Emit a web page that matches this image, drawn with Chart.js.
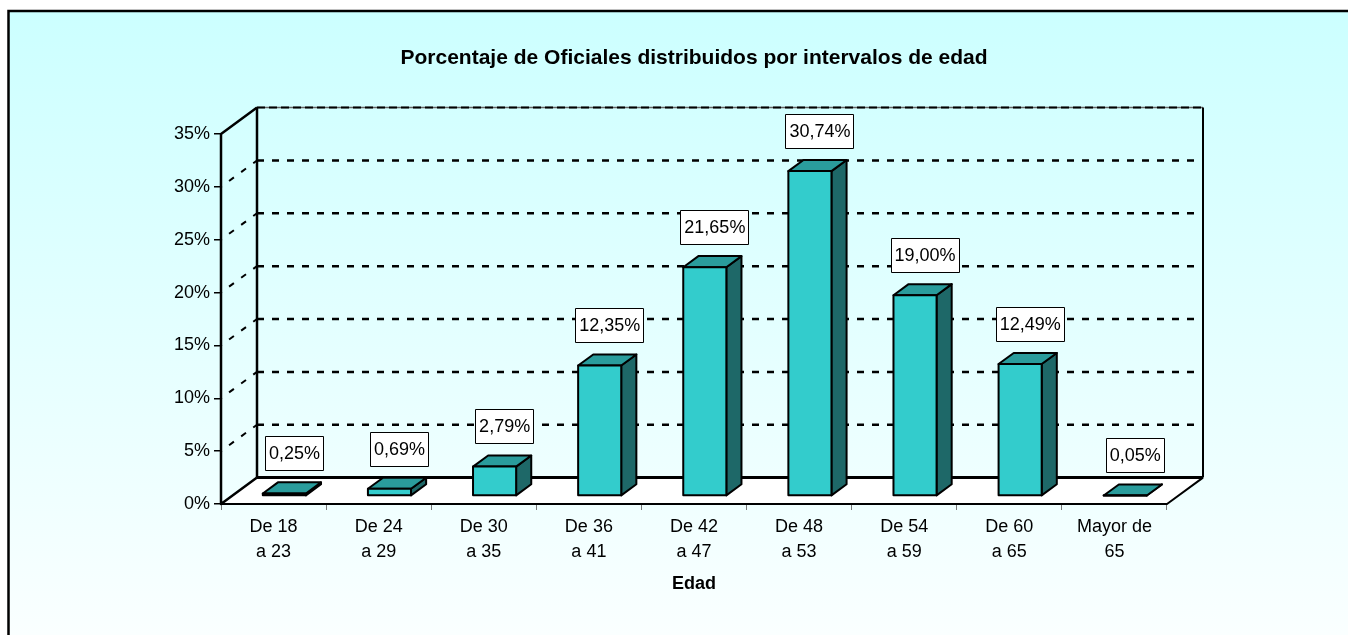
<!DOCTYPE html>
<html>
<head>
<meta charset="utf-8">
<script src="https://cdn.jsdelivr.net/npm/chart.js@4.4.0/dist/chart.umd.min.js"></script>
<style>
  body { margin: 0; background: #fff; }
  #wrap { width: 1348px; height: 635px; }
</style>
</head>
<body>
<div id="wrap"><canvas id="ageChart" width="1348" height="635"></canvas></div>
<script>
// Data
const ageGroups = [
    ['De 18', 'a 23'], ['De 24', 'a 29'], ['De 30', 'a 35'],
    ['De 36', 'a 41'], ['De 42', 'a 47'], ['De 48', 'a 53'],
    ['De 54', 'a 59'], ['De 60', 'a 65'], ['Mayor de', '65']
];
const officerPct = [0.25, 0.69, 2.79, 12.35, 21.65, 30.74, 19.00, 12.49, 0.05];
const pctTicks = [0, 5, 10, 15, 20, 25, 30, 35];
const chartTitle = 'Porcentaje de Oficiales distribuidos por intervalos de edad';
const axisTitle = 'Edad';

const FONT = '"Liberation Sans", Arial, sans-serif';
// 3D depth of the plot box (back wall offset from front)
const DX = 36, DY = -26.4;
const BAR_FRONT = 0.30, BAR_BACK = 0.72; // where the columns sit in the depth

function strokeLine(ctx, pts, width, dash) {
    ctx.lineWidth = width;
    ctx.setLineDash(dash || []);
    ctx.beginPath();
    pts.forEach((p, i) => i ? ctx.lineTo(p[0], p[1]) : ctx.moveTo(p[0], p[1]));
    ctx.stroke();
}

function poly(ctx, pts, fill) {
    ctx.beginPath();
    pts.forEach((p, i) => i ? ctx.lineTo(p[0], p[1]) : ctx.moveTo(p[0], p[1]));
    ctx.closePath();
    ctx.fillStyle = fill;
    ctx.fill();
    ctx.stroke();
}

// Frame with the light cyan gradient, plus the chart title centred on the plot
const backdrop = {
    id: 'backdrop',
    beforeDraw(chart) {
        const { ctx, width, height, chartArea: a } = chart;
        ctx.save();
        const g = ctx.createLinearGradient(0, 11, 0, height);
        g.addColorStop(0, '#CCFFFF');
        g.addColorStop(1, '#FAFFFF');
        ctx.fillStyle = g;
        ctx.fillRect(9, 11, width - 9, height - 11);
        ctx.strokeStyle = '#000';
        strokeLine(ctx, [[8.5, height], [8.5, 11], [width, 11]], 2.5);

        ctx.fillStyle = '#000';
        ctx.font = 'bold 21px ' + FONT;
        ctx.textAlign = 'center';
        ctx.textBaseline = 'middle';
        ctx.fillText(chartTitle, (a.left + a.right) / 2, 58);
        ctx.restore();
    }
};

// Floor, walls and dotted gridlines
const walls = {
    id: 'walls',
    beforeDatasetsDraw(chart) {
        const { ctx, chartArea: a, scales: { y } } = chart;
        const L = a.left, R = a.right, T = a.top, B = a.bottom;
        ctx.save();
        ctx.fillStyle = '#fff';
        ctx.beginPath();
        ctx.moveTo(L, B); ctx.lineTo(R, B); ctx.lineTo(R + DX, B + DY); ctx.lineTo(L + DX, B + DY);
        ctx.closePath();
        ctx.fill();

        ctx.strokeStyle = '#000';
        ctx.lineCap = 'butt';
        y.ticks.forEach(t => {
            if (t.value <= y.min || t.value >= y.max) return;
            const py = y.getPixelForValue(t.value);
            ctx.lineDashOffset = 0;
            strokeLine(ctx, [[L + DX, py + DY], [R + DX - 8, py + DY]], 2.5, [7, 8]);
            ctx.lineDashOffset = -10;
            strokeLine(ctx, [[L, py], [L + DX, py + DY]], 2, [6, 9]);
        });
        ctx.lineDashOffset = 0;
        // top edge of the back wall
        ctx.strokeStyle = '#666';
        strokeLine(ctx, [[L + DX, T + DY], [R + DX, T + DY]], 1.5);
        ctx.strokeStyle = '#000';
        strokeLine(ctx, [[L + DX, T + DY], [R + DX, T + DY]], 2, [8, 4]);

        ctx.lineJoin = 'round';
        strokeLine(ctx, [[L + DX, B + DY], [L + DX, T + DY]], 2.5);
        strokeLine(ctx, [[R + DX, T + DY], [R + DX, B + DY]], 2);
        strokeLine(ctx, [[L + DX, B + DY], [R + DX, B + DY]], 3);
        strokeLine(ctx, [[L + DX, T + DY], [L, T], [L, B], [L + DX, B + DY]], 2.5);
        strokeLine(ctx, [[L, B], [R, B], [R + DX, B + DY]], 2);
        ctx.restore();
    }
};

// 3D columns and the boxed value labels
const bars3d = {
    id: 'bars3d',
    afterDatasetsDraw(chart) {
        const { ctx } = chart;
        const meta = chart.getDatasetMeta(0);
        const ddx = DX * (BAR_BACK - BAR_FRONT), ddy = DY * (BAR_BACK - BAR_FRONT);
        ctx.save();
        ctx.strokeStyle = '#000';
        ctx.lineWidth = 2;
        ctx.lineJoin = 'round';
        ctx.setLineDash([]);
        meta.data.forEach((bar, i) => {
            const { x, y, base, width } = bar.getProps(['x', 'y', 'base', 'width'], true);
            const x0 = x - width / 2 + DX * BAR_FRONT, x1 = x0 + width;
            const yt = y + DY * BAR_FRONT, yb = base + DY * BAR_FRONT;
            poly(ctx, [[x1, yb], [x1, yt], [x1 + ddx, yt + ddy], [x1 + ddx, yb + ddy]], '#1E6868');
            poly(ctx, [[x0, yt], [x1, yt], [x1 + ddx, yt + ddy], [x0 + ddx, yt + ddy]], '#2A9C9C');
            poly(ctx, [[x0, yb], [x1, yb], [x1, yt], [x0, yt]], '#33CCCC');

            const text = officerPct[i].toFixed(2).replace('.', ',') + '%';
            ctx.font = '18px ' + FONT;
            const tw = ctx.measureText(text).width;
            const bw = tw + 7, bh = 34;
            const cx = x + DX * BAR_FRONT + ddx / 2 + 2;
            const by = yt + ddy - 12 - bh;
            ctx.save();
            ctx.lineWidth = 1;
            ctx.fillStyle = '#fff';
            ctx.fillRect(Math.round(cx - bw / 2) + 0.5, Math.round(by) + 0.5, Math.round(bw), bh);
            ctx.strokeRect(Math.round(cx - bw / 2) + 0.5, Math.round(by) + 0.5, Math.round(bw), bh);
            ctx.fillStyle = '#000';
            ctx.textAlign = 'center';
            ctx.textBaseline = 'middle';
            ctx.fillText(text, cx + 0.5, by + bh / 2 + 1);
            ctx.restore();
        });
        ctx.restore();
    }
};

const ctx = document.getElementById('ageChart').getContext('2d');
new Chart(ctx, {
    type: 'bar',
    data: {
        labels: ageGroups,
        datasets: [{
            data: officerPct,
            backgroundColor: 'rgba(0,0,0,0)',
            borderWidth: 0,
            categoryPercentage: 1,
            barPercentage: 0.41
        }]
    },
    options: {
        responsive: false,
        animation: false,
        layout: { padding: { left: 0, right: 181, top: 134, bottom: 0 } },
        plugins: {
            legend: { display: false },
            tooltip: { enabled: false },
            title: { display: false }
        },
        scales: {
            x: {
                grid: { display: true, drawOnChartArea: false, drawTicks: true, tickLength: 6, color: '#777', lineWidth: 1, offset: true },
                border: { display: false },
                ticks: {
                    color: '#000',
                    font: { family: FONT, size: 18, lineHeight: 25 / 18 },
                    padding: 5,
                    maxRotation: 0,
                    autoSkip: false
                },
                title: {
                    display: true,
                    text: axisTitle,
                    color: '#000',
                    font: { family: FONT, size: 18, weight: 'bold', lineHeight: 1.2 },
                    padding: { top: 0, bottom: 40 }
                },
                afterFit(s) { s.height = 131; }
            },
            y: {
                min: 0,
                max: 35,
                afterBuildTicks(s) { s.ticks = pctTicks.map(v => ({ value: v })); },
                ticks: {
                    color: '#000',
                    font: { family: FONT, size: 18 },
                    padding: 4,
                    callback: v => v + '%'
                },
                grid: { display: true, drawOnChartArea: false, drawTicks: true, tickLength: 7, color: '#000', lineWidth: 1.5 },
                border: { display: false },
                afterFit(s) { s.width = 221; }
            }
        }
    },
    plugins: [backdrop, walls, bars3d]
});
</script>
</body>
</html>
